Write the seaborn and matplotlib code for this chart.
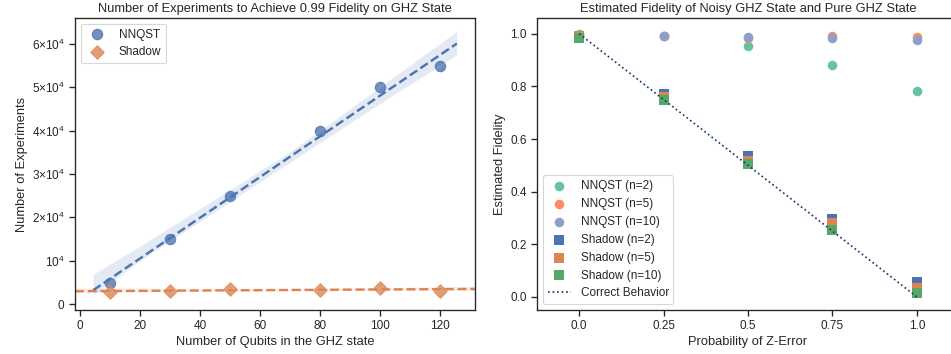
import numpy as np
import pandas as pd
import matplotlib
matplotlib.use("Agg")
import matplotlib.pyplot as plt
import matplotlib.ticker as mticker
import seaborn as sns

# Left panel: experiments needed for 0.99 fidelity
qubits = [10, 30, 50, 80, 100, 120]
nnqst_experiments = [4800, 15000, 25000, 40000, 50000, 55000]
shadow_experiments = [2700, 3100, 3500, 3200, 3600, 3100]

# Right panel: estimated fidelity vs probability of Z-error
z_error = ["0.0", "0.25", "0.5", "0.75", "1.0"]
nnqst_n2 = [1.0, 0.99, 0.955, 0.882, 0.782]
nnqst_n5 = [0.99, 0.99, 0.985, 0.99, 0.988]
nnqst_n10 = [0.995, 0.993, 0.988, 0.985, 0.975]
shadow_n2 = [0.99, 0.77, 0.535, 0.295, 0.055]
shadow_n5 = [0.99, 0.76, 0.515, 0.28, 0.035]
shadow_n10 = [0.985, 0.75, 0.505, 0.255, 0.015]
correct = [1.0, 0.75, 0.5, 0.25, 0.0]

sns.set_theme(style="ticks", context="notebook")
plt.rcParams["font.family"] = ["Liberation Sans", "DejaVu Sans"]
plt.rcParams["mathtext.fontset"] = "custom"
plt.rcParams["mathtext.rm"] = "Liberation Sans"
plt.rcParams["mathtext.it"] = "Liberation Sans:italic"

deep = sns.color_palette("deep")
set2 = sns.color_palette("Set2")

DPI = 77
W, H = 951, 354
fig = plt.figure(figsize=(W / DPI, H / DPI), dpi=DPI)
ax1 = fig.add_axes([75 / W, 1 - 310 / H, 400 / W, 292 / H])
ax2 = fig.add_axes([537 / W, 1 - 310 / H, 422 / W, 292 / H])

# ---- left
df_left = pd.DataFrame({"qubits": qubits, "nnqst": nnqst_experiments, "shadow": shadow_experiments})
sns.regplot(data=df_left, x="qubits", y="nnqst", ax=ax1, color=deep[0], label="NNQST",
            truncate=False, scatter_kws={"s": 95}, line_kws={"linestyle": "--"}, seed=0)
# the band adds the usual margins before the second fit is drawn
lo, hi = ax1.get_xlim()
pad = 0.05 * (hi - lo)
ax1.set_xlim(lo - pad, hi + pad)
sns.regplot(data=df_left, x="qubits", y="shadow", ax=ax1, color=deep[1], marker="D", label="Shadow",
            truncate=False, scatter_kws={"s": 80}, line_kws={"linestyle": "--"}, seed=0)


def sci_fmt(v, pos):
    if v == 0:
        return "$0$"
    m = int(round(v / 1e4))
    if m == 1:
        return "$10^{4}$"
    return r"$%d{\times}10^{4}$" % m


ax1.set_ylim(-1400, 66000)
ax1.yaxis.set_major_locator(mticker.MultipleLocator(10000))
ax1.yaxis.set_major_formatter(mticker.FuncFormatter(sci_fmt))
ax1.set_xlabel("Number of Qubits in the GHZ state")
ax1.set_ylabel("Number of Experiments")
ax1.set_title("Number of Experiments to Achieve 0.99 Fidelity on GHZ State")
ax1.legend(loc="upper left")

# ---- right
series = [
    (nnqst_n2, "NNQST (n=2)", set2[0], "o"),
    (nnqst_n5, "NNQST (n=5)", set2[1], "o"),
    (nnqst_n10, "NNQST (n=10)", set2[2], "o"),
    (shadow_n2, "Shadow (n=2)", deep[0], "s"),
    (shadow_n5, "Shadow (n=5)", deep[1], "s"),
    (shadow_n10, "Shadow (n=10)", deep[2], "s"),
]
for vals, lab, col, mk in series:
    sns.scatterplot(x=z_error, y=vals, ax=ax2, color=col, marker=mk, s=80, linewidth=0, label=lab)
sns.lineplot(x=z_error, y=correct, ax=ax2, color="#1a3a6e", linestyle=":", linewidth=1.6,
             label="Correct Behavior")

ax2.set_xlim(-0.5, 4.5)
ax2.set_ylim(-0.05, 1.06)
ax2.set_xlabel("Probability of Z-Error")
ax2.set_ylabel("Estimated Fidelity")
ax2.set_title("Estimated Fidelity of Noisy GHZ State and Pure GHZ State")
ax2.legend(loc="lower left")

fig.savefig("out.png", dpi=DPI)
